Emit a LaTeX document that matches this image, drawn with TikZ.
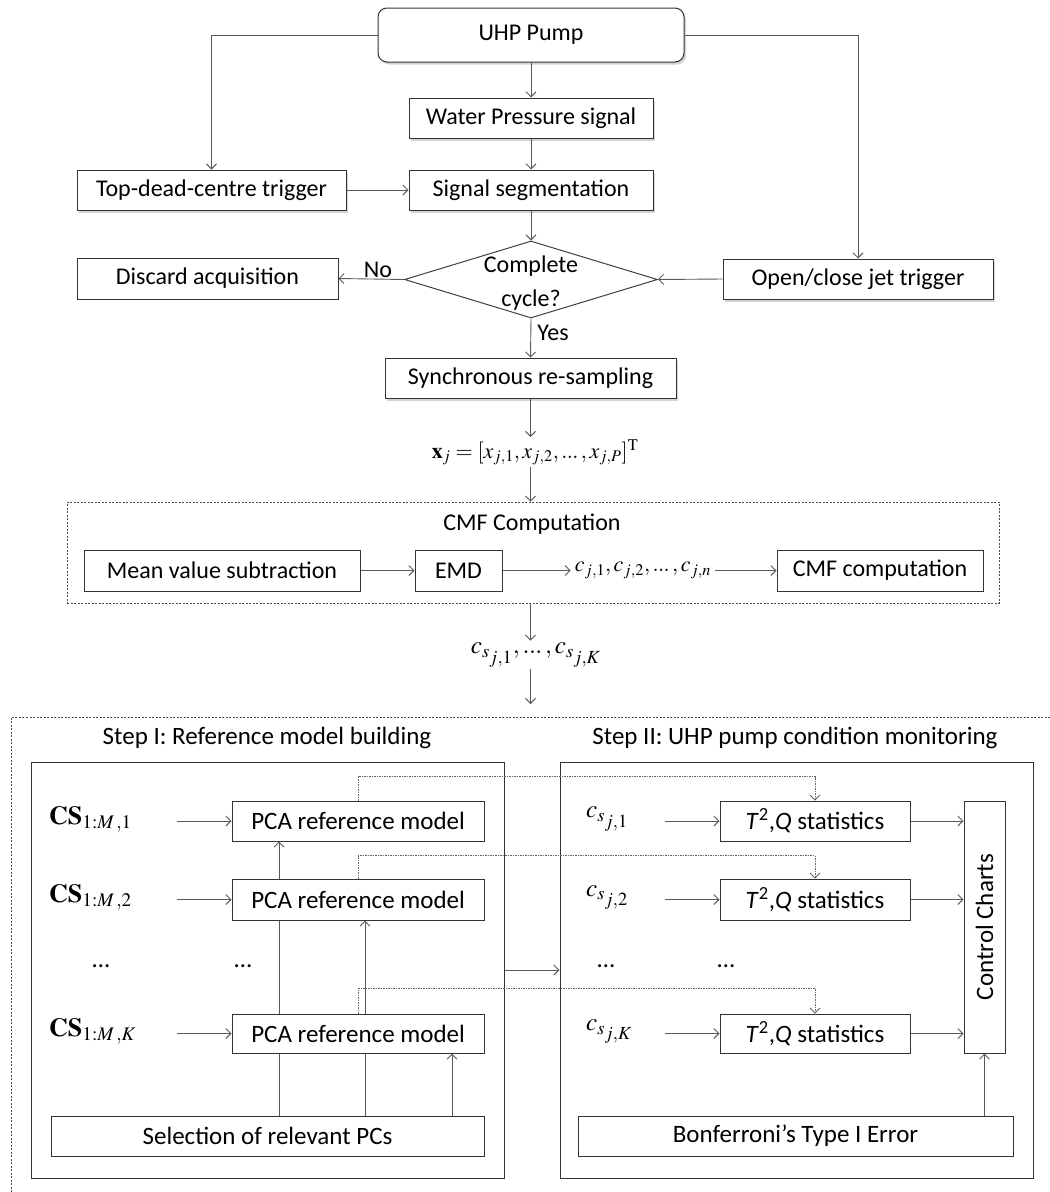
\documentclass[tikz,border=0pt]{standalone}
\usepackage{mathptmx}
\usepackage{fontspec}
\setmainfont{Carlito}
\usetikzlibrary{arrows.meta,shapes.geometric,shadows}
\newcommand\mytopfont{\fontsize{24}{28}\selectfont}
\newcommand\mybotfont{\fontsize{25}{29}\selectfont}
\newcommand\tdots{\mathinner{.\kern-0.5pt.\kern-0.5pt.}}
\begin{document}
\begin{tikzpicture}[x=1pt,y=-1pt,
  line/.style={draw=black!65, line width=0.9pt},
  arr/.style={line, -{Straight Barb[length=5pt,width=10pt]}},
  dotarr/.style={draw=black!60, line width=0.8pt, dash pattern=on 1.5pt off 1pt, -{Straight Barb[length=5pt,width=10pt]}},
  box/.style={draw=black!80, line width=1pt, fill=white, inner sep=0pt, align=center, font=\mytopfont},
  sbox/.style={box, drop shadow={opacity=0.35, shadow xshift=2pt, shadow yshift=-2.5pt}},
  bbox/.style={draw=black!80, line width=1pt, fill=white, inner sep=0pt, align=center, font=\mybotfont},
  frame/.style={draw=black!80, line width=1pt},
  dframe/.style={draw=black!70, line width=0.8pt, dash pattern=on 2pt off 1.5pt},
  lbl/.style={font=\mytopfont, inner sep=0pt},
  blbl/.style={font=\mybotfont, inner sep=0pt},
  cslbl/.style={anchor=west, inner sep=0pt, align=left, font=\fontsize{26}{30}\selectfont},
  cjlbl/.style={anchor=west, inner sep=0pt, align=left, font=\fontsize{25}{29}\selectfont}]
\useasboundingbox (0,0) rectangle (1050,1192);

% ---- top flow ----
\node[sbox, rounded corners=9pt, minimum width=306, minimum height=54] (uhp) at (531,35) {UHP Pump};
\node[sbox, minimum width=244, minimum height=40] (wps) at (531,118) {Water Pressure signal};
\node[sbox, minimum width=269, minimum height=40] (tdc) at (211.5,190) {Top-dead-centre trigger};
\node[sbox, minimum width=244, minimum height=40] (seg) at (531,190) {Signal segmentation};
\node[diamond, draw=black!75, line width=1pt, fill=white, inner sep=0pt, minimum width=253, minimum height=77,
      label={[font=\mytopfont, align=center, inner sep=0pt, yshift=-4pt]center:Complete\\[6pt]cycle?}] (dia) at (531,279.5) {};
\node[box, minimum width=261, minimum height=41] (dis) at (207.5,278.5) {Discard acquisition};
\node[sbox, minimum width=270, minimum height=40] (jet) at (858,279) {Open/close jet trigger};
\node[sbox, minimum width=291, minimum height=40] (syn) at (530.5,378) {Synchronous re-sampling};
\node[inner sep=2pt, font=\fontsize{22}{26}\selectfont] (xj) at (535,452) {$\mathbf{x}_j=[x_{j,1},x_{j,2},\tdots,x_{j,P}]^{\mathrm{T}}$};

\draw[arr] (uhp.west) -| (tdc.north);
\draw[arr] (uhp.east) -| (jet.north);
\draw[arr] (uhp) -- (wps);
\draw[arr] (wps) -- (seg);
\draw[arr] (tdc) -- (seg);
\draw[arr] (seg) -- (dia.north);
\draw[arr] (dia.west) -- (dis.east);
\draw[arr] (jet.west) -- (dia.east);
\draw[arr] (dia.south) -- (syn.north);
\draw[arr] (syn.south) -- (syn.south |- xj.north);
\node[lbl] (no) at (378,270) {No};
\node[lbl] (yes) at (553,333) {Yes};

% ---- CMF computation ----
\node[dframe, minimum width=932, minimum height=101, inner sep=0pt] (cmf) at (533,552.5) {};
\node[lbl] (cmft) at (532,524) {CMF Computation};
\node[box, minimum width=276, minimum height=41] (mvs) at (222,570.5) {Mean value subtraction};
\node[box, minimum width=87, minimum height=41] (emd) at (458.5,570.5) {EMD};
\node[inner sep=4pt, font=\fontsize{22}{26}\selectfont] (cj) at (643,570.5) {$c_{j,1},c_{j,2},\tdots,c_{j,n}$};
\node[box, minimum width=206, minimum height=41] (cmfc) at (880,570.5) {CMF computation};
\draw[arr] (xj.south -| syn.south) -- (cmf.north -| syn.south);
\draw[arr] (mvs) -- (emd);
\draw[arr] (emd) -- (cj);
\draw[arr] (cj) -- (cmfc);
\node[inner sep=2pt, font=\fontsize{25}{29}\selectfont] (cs) at (536,655) {$c_{s_{\scriptstyle j,1}},\tdots,c_{s_{\scriptstyle j,K}}$};
\draw[arr] (cmf.south -| syn.south) -- (cs.north -| syn.south);
\coordinate (csend) at (530.5,704);
\draw[arr] (cs.south -| syn.south) -- (csend);

% ---- outer dashed frame ----
\draw[dframe] (1050,717) -- (11,717) -- (11,1192);
\node[blbl] (st1) at (267,738) {Step I: Reference model building};
\node[blbl] (st2) at (795,738) {Step II: UHP pump condition monitoring};

% ---- Step I ----
\node[frame, minimum width=473, minimum height=416, inner sep=0pt] (lb) at (267.5,970) {};
\node[bbox, minimum width=252, minimum height=40] (p1) at (358,821) {PCA reference model};
\node[bbox, minimum width=252, minimum height=41] (p2) at (358,899.5) {PCA reference model};
\node[bbox, minimum width=252, minimum height=39] (pk) at (358,1033.5) {PCA reference model};
\node[bbox, minimum width=433, minimum height=40] (sel) at (267.5,1136) {Selection of relevant PCs};
\node[cslbl, text width=128pt] (c1) at (49,819) {$\mathbf{CS}_{1:M\,,1}$};
\node[cslbl, text width=128pt] (c2) at (49,897.5) {$\mathbf{CS}_{1:M\,,2}$};
\node[cslbl, text width=128pt] (ck) at (49,1031.5) {$\mathbf{CS}_{1:M\,,K}$};
\node[blbl] (d1) at (101,966) {\dots};
\node[blbl] (d2) at (243,966) {\dots};
\draw[arr] (c1.east |- p1.west) -- (p1.west);
\draw[arr] (c2.east |- p2.west) -- (p2.west);
\draw[arr] (ck.east |- pk.west) -- (pk.west);
\coordinate (va) at (279,0);
\coordinate (vb) at (365,0);
\coordinate (vc) at (452,0);
\draw[line] (sel.north -| va) -- (pk.south -| va);
\draw[line] (pk.north -| va) -- (p2.south -| va);
\draw[arr] (p2.north -| va) -- (p1.south -| va);
\draw[line] (sel.north -| vb) -- (pk.south -| vb);
\draw[arr] (pk.north -| vb) -- (p2.south -| vb);
\draw[arr] (sel.north -| vc) -- (pk.south -| vc);

% ---- Step II ----
\node[frame, minimum width=473, minimum height=416, inner sep=0pt] (rb) at (796.5,970) {};
\node[bbox, minimum width=190, minimum height=40] (t1) at (815,821) {\textit{T}\textsuperscript{2},\textit{Q} statistics};
\node[bbox, minimum width=190, minimum height=41] (t2) at (815,899.5) {\textit{T}\textsuperscript{2},\textit{Q} statistics};
\node[bbox, minimum width=190, minimum height=39] (tk) at (815,1033.5) {\textit{T}\textsuperscript{2},\textit{Q} statistics};
\node[bbox, minimum width=41, minimum height=252] (ctrl) at (984.5,927) {\rotatebox{90}{Control Charts}};
\node[bbox, minimum width=435, minimum height=40] (bon) at (795.5,1136) {Bonferroni’s Type I Error};
\node[cjlbl, text width=79pt] (s1) at (586,819) {$c_{s_{\scriptstyle j,1}}$};
\node[cjlbl, text width=79pt] (s2) at (586,897.5) {$c_{s_{\scriptstyle j,2}}$};
\node[cjlbl, text width=79pt] (sk) at (586,1031.5) {$c_{s_{\scriptstyle j,K}}$};
\node[blbl] (d3) at (606,966) {\dots};
\node[blbl] (d4) at (726,966) {\dots};
\draw[arr] (s1.east |- t1.west) -- (t1.west);
\draw[arr] (s2.east |- t2.west) -- (t2.west);
\draw[arr] (sk.east |- tk.west) -- (tk.west);
\draw[arr] (t1.east) -- (t1.east -| ctrl.west);
\draw[arr] (t2.east) -- (t2.east -| ctrl.west);
\draw[arr] (tk.east) -- (tk.east -| ctrl.west);
\draw[arr] (bon.north -| ctrl.south) -- (ctrl.south);
\coordinate (ya) at (0,970);
\draw[arr] (lb.east |- ya) -- (rb.west |- ya);

% ---- dotted links ----
\draw[dotarr] (p1.north) -- ++(0,-24) -| (t1.north);
\draw[dotarr] (p2.north) -- ++(0,-23) -| (t2.north);
\draw[dotarr] (pk.north) -- ++(0,-25) -| (tk.north);
\end{tikzpicture}
\end{document}
